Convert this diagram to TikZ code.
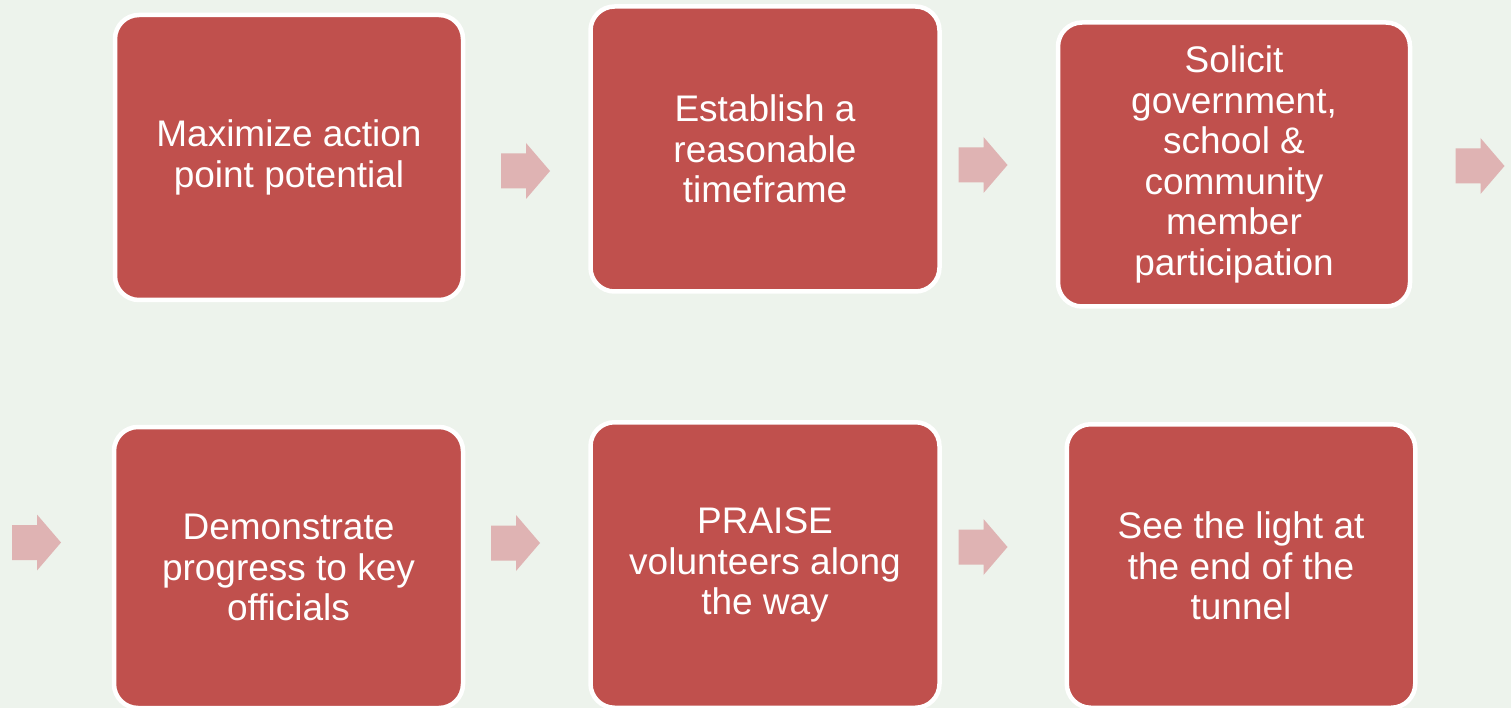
\documentclass[tikz,border=0pt]{standalone}
\usepackage{fontspec}
\setmainfont{Liberation Sans}
\definecolor{bgcol}{HTML}{EDF3EC}
\definecolor{boxred}{HTML}{C0504D}
\definecolor{arrowpink}{HTML}{DFB3B3}
\tikzset{
  stepbox/.style={draw=white, line width=4.5pt, fill=boxred, rounded corners=24pt,
    text=white, align=center, inner sep=0pt, font=\fontsize{37}{40.5}\selectfont},
  blockarrow/.pic={\fill[arrowpink] (-24.5,-17.5) -- (0.5,-17.5) -- (0.5,-28) -- (24.5,0)
     -- (0.5,28) -- (0.5,17.5) -- (-24.5,17.5) -- cycle;}
}
\begin{document}
\begin{tikzpicture}[x=1pt,y=-1pt]
\useasboundingbox[fill=bgcol] (0,0) rectangle (1511,708);
\node[stepbox, minimum width=348pt, minimum height=285pt] (b1) at (289,157.5)
  {Maximize action\\point potential};
\node[stepbox, minimum width=349pt, minimum height=285pt] (b2) at (765,149)
  {Establish a\\reasonable\\timeframe};
\node[stepbox, minimum width=352pt, minimum height=284pt] (b3) at (1234,164.5)
  {Solicit\\government,\\school \&\\community\\member\\participation};
\node[stepbox, minimum width=349pt, minimum height=281pt] (b4) at (288.5,567.5)
  {Demonstrate\\progress to key\\officials};
\node[stepbox, minimum width=349pt, minimum height=285.5pt] (b5) at (765,565)
  {PRAISE\\volunteers along\\the way};
\node[stepbox, minimum width=348.5pt, minimum height=283.5pt] (b6) at (1241,566)
  {See the light at\\the end of the\\tunnel};
\pic (a1) at (525.5,171) {blockarrow};
\pic (a2) at (983,165) {blockarrow};
\pic (a3) at (1480,166) {blockarrow};
\pic (a4) at (36.5,542.5) {blockarrow};
\pic (a5) at (515.5,543) {blockarrow};
\pic (a6) at (983,547) {blockarrow};
\end{tikzpicture}
\end{document}
